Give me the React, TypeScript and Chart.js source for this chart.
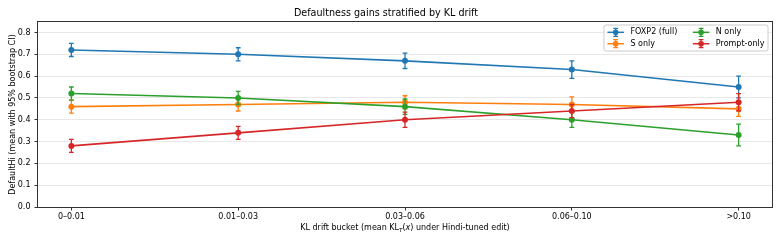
import React, { useEffect, useRef } from "react";
import { Chart, registerables } from "chart.js";

Chart.register(...registerables);

const categories = ["0–0.01", "0.01–0.03", "0.03–0.06", "0.06–0.10", ">0.10"];
const seriesNames = ["FOXP2 (full)", "S only", "N only", "Prompt-only"];
const foxp2 = [0.72, 0.7, 0.67, 0.63, 0.55];
const foxp2Err = [0.03, 0.03, 0.035, 0.04, 0.05];
const sOnly = [0.46, 0.47, 0.48, 0.47, 0.45];
const sOnlyErr = [0.03, 0.03, 0.03, 0.035, 0.035];
const nOnly = [0.52, 0.5, 0.46, 0.4, 0.33];
const nOnlyErr = [0.03, 0.03, 0.035, 0.035, 0.05];
const promptOnly = [0.28, 0.34, 0.4, 0.44, 0.48];
const promptOnlyErr = [0.03, 0.03, 0.035, 0.03, 0.04];
const yTicks = [0, 0.1, 0.2, 0.3, 0.4, 0.5, 0.6, 0.7, 0.8];
const colors = ["#1f77b4", "#ff7f0e", "#2ca02c", "#d62728"];

const FONT = '"DejaVu Sans", sans-serif';
const seriesValues = [foxp2, sOnly, nOnly, promptOnly];
const seriesErrs = [foxp2Err, sOnlyErr, nOnlyErr, promptOnlyErr];

const errorBarPlugin = {
  id: "errorBars",
  afterDatasetDraw(chart: any, args: any) {
    const i = args.index;
    const errs = seriesErrs[i];
    const vals = seriesValues[i];
    const xs = chart.scales.x;
    const ys = chart.scales.y;
    const ctx = chart.ctx;
    ctx.save();
    ctx.strokeStyle = colors[i];
    ctx.lineWidth = 1.3;
    vals.forEach((v, j) => {
      const x = xs.getPixelForValue(j);
      const y1 = ys.getPixelForValue(v - errs[j]);
      const y2 = ys.getPixelForValue(v + errs[j]);
      ctx.beginPath();
      ctx.moveTo(x, y1);
      ctx.lineTo(x, y2);
      ctx.moveTo(x - 2.4, y1);
      ctx.lineTo(x + 2.4, y1);
      ctx.moveTo(x - 2.4, y2);
      ctx.lineTo(x + 2.4, y2);
      ctx.stroke();
    });
    ctx.restore();
  },
};

const framePlugin = {
  id: "frame",
  afterDraw(chart: any) {
    const ctx = chart.ctx;
    const a = chart.chartArea;
    ctx.save();
    // frame
    ctx.strokeStyle = "#333333";
    ctx.lineWidth = 1;
    ctx.strokeRect(Math.round(a.left) - 0.5, Math.round(a.top) - 0.5, Math.round(a.right - a.left) + 1, Math.round(a.bottom - a.top) + 1);

    // x axis label with subscript
    ctx.fillStyle = "#000";
    ctx.textBaseline = "alphabetic";
    const parts = [
      { t: "KL drift bucket (mean KL", f: `8px ${FONT}`, dy: 0 },
      { t: "T", f: `italic 5.6px ${FONT}`, dy: 1.8 },
      { t: "(", f: `8px ${FONT}`, dy: 0 },
      { t: "x", f: `italic 8px ${FONT}`, dy: 0 },
      { t: ") under Hindi-tuned edit)", f: `8px ${FONT}`, dy: 0 },
    ];
    let total = 0;
    const widths = parts.map((p) => {
      ctx.font = p.f;
      const w = ctx.measureText(p.t).width;
      total += w;
      return w;
    });
    let x = (a.left + a.right) / 2 - total / 2;
    const base = 230.3;
    parts.forEach((p, k) => {
      ctx.font = p.f;
      ctx.textAlign = "left";
      ctx.fillText(p.t, x, base + p.dy);
      x += widths[k];
    });

    // legend
    ctx.font = `8px ${FONT}`;
    const handle = 16.5;
    const gap = 6.5;
    const colSpace = 15.5;
    const padX = 3.5;
    const m = (s: string) => ctx.measureText(s).width;
    const w1 = Math.max(m(seriesNames[0]), m(seriesNames[1]));
    const w2 = Math.max(m(seriesNames[2]), m(seriesNames[3]));
    const boxW = padX * 2 + handle + gap + w1 + colSpace + handle + gap + w2;
    const right = a.right - 4;
    const left = right - boxW;
    const top = a.top + 3;
    const boxH = 26;
    ctx.beginPath();
    const r = 2;
    ctx.moveTo(left + r, top);
    ctx.lineTo(left + boxW - r, top);
    ctx.arcTo(left + boxW, top, left + boxW, top + r, r);
    ctx.lineTo(left + boxW, top + boxH - r);
    ctx.arcTo(left + boxW, top + boxH, left + boxW - r, top + boxH, r);
    ctx.lineTo(left + r, top + boxH);
    ctx.arcTo(left, top + boxH, left, top + boxH - r, r);
    ctx.lineTo(left, top + r);
    ctx.arcTo(left, top, left + r, top, r);
    ctx.closePath();
    ctx.fillStyle = "rgba(255,255,255,0.8)";
    ctx.fill();
    ctx.strokeStyle = "#cccccc";
    ctx.lineWidth = 1;
    ctx.stroke();

    const colX = [left + padX, left + padX + handle + gap + w1 + colSpace];
    const rowY = [top + 7.3, top + 18.7];
    const order = [
      [0, 0],
      [0, 1],
      [1, 0],
      [1, 1],
    ];
    seriesNames.forEach((name, i) => {
      const [c, rr] = order[i];
      const hx = colX[c];
      const hy = rowY[rr];
      ctx.strokeStyle = colors[i];
      ctx.fillStyle = colors[i];
      ctx.lineWidth = 1.5;
      ctx.beginPath();
      ctx.moveTo(hx, hy);
      ctx.lineTo(hx + handle, hy);
      ctx.stroke();
      const cx = hx + handle / 2;
      ctx.lineWidth = 1.3;
      ctx.beginPath();
      ctx.moveTo(cx, hy - 4);
      ctx.lineTo(cx, hy + 4);
      ctx.moveTo(cx - 2.4, hy - 4);
      ctx.lineTo(cx + 2.4, hy - 4);
      ctx.moveTo(cx - 2.4, hy + 4);
      ctx.lineTo(cx + 2.4, hy + 4);
      ctx.stroke();
      ctx.beginPath();
      ctx.arc(cx, hy, 2.8, 0, Math.PI * 2);
      ctx.fill();
      ctx.fillStyle = "#000";
      ctx.textAlign = "left";
      ctx.textBaseline = "middle";
      ctx.fillText(name, hx + handle + gap, hy);
    });
    ctx.restore();
  },
};

export default function App() {
  const ref = useRef<HTMLCanvasElement | null>(null);
  useEffect(() => {
    document.body.style.margin = "0";
    const canvas = ref.current;
    if (!canvas) return;
    const datasets = seriesNames.map((name, i) => ({
      label: name,
      data: seriesValues[i].map((y, j) => ({ x: j, y })),
      borderColor: colors[i],
      backgroundColor: colors[i],
      pointBackgroundColor: colors[i],
      pointBorderWidth: 0,
      pointRadius: 3,
      borderWidth: 1.6,
      tension: 0,
      order: 4 - i,
    }));
    const chart = new Chart(canvas, {
      type: "line",
      data: { datasets },
      plugins: [errorBarPlugin, framePlugin],
      options: {
        animation: false,
        responsive: false,
        devicePixelRatio: 1,
        layout: { padding: { left: 0, right: 9, top: 0, bottom: 0 } },
        plugins: {
          legend: { display: false },
          tooltip: { enabled: false },
          title: {
            display: true,
            text: "Defaultness gains stratified by KL drift",
            color: "#000",
            font: { family: FONT, size: 9.6, weight: "normal" },
            padding: { top: 8.2, bottom: 2.3 },
          },
        },
        scales: {
          x: {
            type: "linear",
            min: -0.2,
            max: 4.2,
            afterFit: (s: any) => {
              s.height = 36;
            },
            afterBuildTicks: (s: any) => {
              s.ticks = categories.map((_, i) => ({ value: i }));
            },
            ticks: {
              autoSkip: false,
              maxRotation: 0,
              color: "#000",
              font: { family: FONT, size: 8 },
              padding: 1.5,
              callback: (v: any) => categories[v] ?? "",
            },
            grid: {
              drawOnChartArea: false,
              tickColor: "#333",
              tickLength: 3.5,
            },
            border: { display: false },
          },
          y: {
            type: "linear",
            min: 0,
            max: 0.848,
            afterFit: (s: any) => {
              s.width = 38;
            },
            afterBuildTicks: (s: any) => {
              s.ticks = yTicks.map((v) => ({ value: v }));
            },
            ticks: {
              color: "#000",
              font: { family: FONT, size: 8 },
              padding: 4,
              callback: (v: any) => Number(v).toFixed(1),
            },
            grid: {
              color: "#e8e8e8",
              tickColor: "#333",
              tickLength: 3.5,
            },
            border: { display: false },
            title: {
              display: true,
              text: "DefaultHi (mean with 95% bootstrap CI)",
              color: "#000",
              font: { family: FONT, size: 8 },
              padding: { top: 8.2, bottom: 0 },
            },
          },
        },
      },
    } as any);
    return () => chart.destroy();
  }, []);
  return (
    <div style={{ width: 781, height: 243 }}>
      <canvas ref={ref} width={781} height={243} style={{ display: "block" }} />
    </div>
  );
}
